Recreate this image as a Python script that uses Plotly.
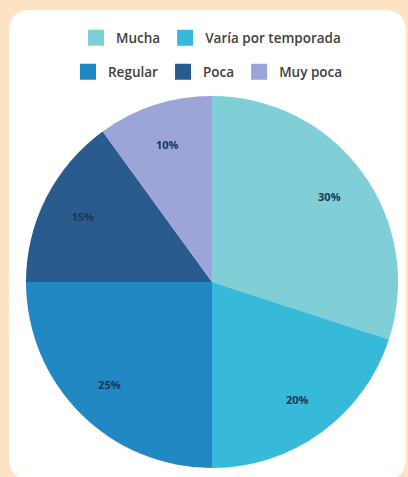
import plotly.graph_objects as go

# ---- data ----
categories = ["Mucha", "Varía por temporada", "Regular", "Poca", "Muy poca"]
values = [30, 20, 25, 15, 10]
colors = ["#80ced6", "#37b9d9", "#2288c4", "#295b8e", "#9ca5d8"]
legend_rows = [["Mucha", "Varía por temporada"], ["Regular", "Poca", "Muy poca"]]

W, H = 408, 477
ML, MR, MT, MB = 26, 10, 96, 9
PW = W - ML - MR
PH = H - MT - MB


def px_x(px):
    return (px - ML) / PW


def px_y(py):
    return (H - MB - py) / PH


fig = go.Figure()

# filled pie
fig.add_trace(go.Pie(
    labels=categories,
    values=values,
    sort=False,
    direction="clockwise",
    rotation=0,
    marker=dict(colors=colors, line=dict(width=0)),
    textinfo="none",
    showlegend=False,
    hoverinfo="skip",
))

# transparent ring carrying the percentage labels further out
fig.add_trace(go.Pie(
    labels=categories,
    values=values,
    sort=False,
    direction="clockwise",
    rotation=0,
    hole=0.56,
    marker=dict(colors=["rgba(0,0,0,0)"] * len(values), line=dict(width=0)),
    textinfo="percent",
    textposition="inside",
    insidetextorientation="horizontal",
    textfont=dict(family="Open Sans", size=11, color="#1b3658", weight="bold"),
    showlegend=False,
    hoverinfo="skip",
))

# legend entries (two rows)
for ri, row in enumerate(legend_rows):
    lg = "legend" if ri == 0 else "legend2"
    for name in row:
        c = colors[categories.index(name)]
        fig.add_trace(go.Scatter(
            x=[None], y=[None], mode="markers", name=name,
            marker=dict(symbol="square", size=16, color=c),
            legend=lg, showlegend=True, hoverinfo="skip",
        ))

# rounded white card
x0, x1 = px_x(9), px_x(406)
y1, y0 = px_y(10), px_y(480)
rx, ry = 22 / PW, 22 / PH
path = (f"M {x0+rx},{y1} L {x1-rx},{y1} Q {x1},{y1} {x1},{y1-ry} "
        f"L {x1},{y0+ry} Q {x1},{y0} {x1-rx},{y0} L {x0+rx},{y0} "
        f"Q {x0},{y0} {x0},{y0+ry} L {x0},{y1-ry} Q {x0},{y1} {x0+rx},{y1} Z")

legend_font = dict(family="Open Sans", size=13.5, color="#404040", weight=600)

fig.update_layout(
    width=W, height=H,
    margin=dict(l=ML, r=MR, t=MT, b=MB, autoexpand=False),
    paper_bgcolor="#fde2c3",
    plot_bgcolor="rgba(0,0,0,0)",
    xaxis=dict(visible=False),
    yaxis=dict(visible=False),
    shapes=[dict(type="path", path=path, xref="paper", yref="paper",
                 fillcolor="white", line=dict(width=0), layer="below")],
    legend=dict(orientation="h", x=px_x(211), y=px_y(38), xanchor="center",
                yanchor="middle", font=legend_font, bgcolor="rgba(0,0,0,0)",
                itemclick=False, itemdoubleclick=False),
    legend2=dict(orientation="h", x=px_x(208), y=px_y(72), xanchor="center",
                 yanchor="middle", font=legend_font, bgcolor="rgba(0,0,0,0)",
                 itemclick=False, itemdoubleclick=False),
    hovermode=False,
)

fig.write_html(
    "out.html",
    config={"displayModeBar": False},
    post_script="document.body.style.margin='0';document.body.style.padding='0';",
)
